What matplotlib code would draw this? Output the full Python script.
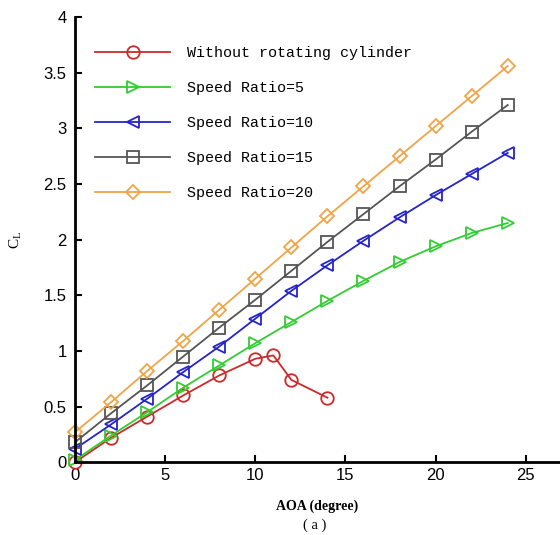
import matplotlib
matplotlib.use("Agg")
import matplotlib.pyplot as plt

# angle of attack (degree)
aoa_base = [0, 2, 4, 6, 8, 10, 11, 12, 14]
aoa = [0, 2, 4, 6, 8, 10, 12, 14, 16, 18, 20, 22, 24]

# lift coefficient
cl_base = [0.0, 0.22, 0.41, 0.60, 0.78, 0.93, 0.96, 0.74, 0.58]
cl_sr5 = [0.02, 0.24, 0.45, 0.67, 0.87, 1.07, 1.26, 1.45, 1.63, 1.80, 1.94, 2.06, 2.15]
cl_sr10 = [0.12, 0.34, 0.57, 0.81, 1.04, 1.29, 1.54, 1.77, 1.99, 2.20, 2.40, 2.59, 2.78]
cl_sr15 = [0.18, 0.44, 0.69, 0.95, 1.21, 1.46, 1.72, 1.98, 2.23, 2.48, 2.72, 2.97, 3.21]
cl_sr20 = [0.27, 0.54, 0.82, 1.09, 1.37, 1.65, 1.93, 2.21, 2.48, 2.75, 3.02, 3.29, 3.56]

fig = plt.figure(figsize=(5.6, 5.35), dpi=100)
ax = fig.add_axes([0.134, 0.136, 0.866, 0.832])

style = dict(markerfacecolor="none", markersize=9, markeredgewidth=1.3,
             linewidth=1.3, clip_on=False)
ax.plot(aoa_base, cl_base, "-o", color="#cc2a2a", label="Without rotating cylinder", **style)
ax.plot(aoa, cl_sr5, "->", color="#33cc33", label="Speed Ratio=5", **style)
ax.plot(aoa, cl_sr10, "-<", color="#2424c8", label="Speed Ratio=10", **style)
ax.plot(aoa, cl_sr15, "-s", color="#555555", label="Speed Ratio=15", **style)
ax.plot(aoa, cl_sr20, "-D", color="#f0a448", label="Speed Ratio=20",
        **{**style, "markersize": 7.5})

ax.set_xlim(0, 26.9)
ax.set_ylim(0, 4)
ax.set_xticks([0, 5, 10, 15, 20, 25])
ax.set_yticks([0, 0.5, 1, 1.5, 2, 2.5, 3, 3.5, 4])
ax.set_yticklabels(["0", "0.5", "1", "1.5", "2", "2.5", "3", "3.5", "4"])
ax.tick_params(direction="in", length=5, width=1.5, labelsize=12)
ax.tick_params(axis="y", pad=6)
ax.tick_params(axis="x", pad=4)
for lbl in ax.get_xticklabels() + ax.get_yticklabels():
    lbl.set_family("Liberation Sans")
ax.spines["top"].set_visible(False)
ax.spines["right"].set_visible(False)
ax.spines["left"].set_linewidth(2)
ax.spines["bottom"].set_linewidth(2)

ax.set_xlabel("AOA (degree)", family="Liberation Serif", fontweight="bold",
              fontsize=10, labelpad=12)
ax.set_ylabel("C$_\\mathregular{L}$", family="Liberation Serif", fontsize=11, labelpad=14)
fig.text(0.5625, 0.018, "( a )", family="Liberation Serif", fontsize=10.5,
         ha="center", va="center")

ax.legend(loc="upper left", bbox_to_anchor=(0.014, 0.965), frameon=False,
          prop={"family": "Liberation Mono", "size": 10.8},
          handlelength=5.0, handletextpad=1.1, labelspacing=1.4)

fig.savefig("out.png", dpi=100)
